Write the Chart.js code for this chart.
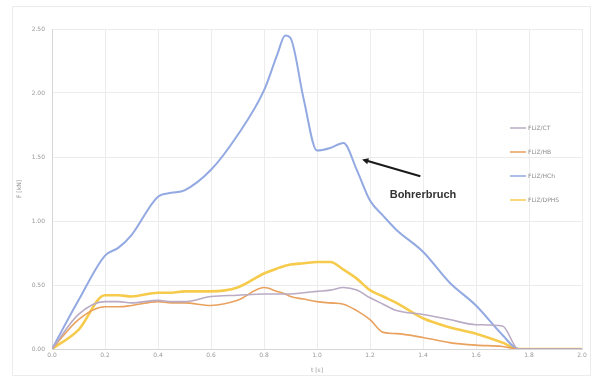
<!DOCTYPE html>
<html>
<head>
<meta charset="utf-8">
<script src="https://cdn.jsdelivr.net/npm/chart.js@4/dist/chart.umd.min.js"></script>
<style>
  html, body { margin: 0; padding: 0; background: #ffffff; }
  #wrap { position: relative; width: 595px; height: 379px; }
  #frame { position: absolute; left: 12px; top: 6px; width: 579px; height: 370px; border: 1px solid #ececec; box-sizing: border-box; pointer-events: none; }
</style>
</head>
<body>
<div id="wrap">
  <canvas id="c" width="595" height="379"></canvas>
  <div id="frame"></div>
</div>
<script>
// Time samples [s]
const timeS = [0.0, 0.1, 0.2, 0.25, 0.3, 0.4, 0.45, 0.5, 0.6, 0.7, 0.8, 0.85, 0.88, 0.9, 0.95, 1.0, 1.05, 1.1, 1.15, 1.2, 1.25, 1.3, 1.4, 1.5, 1.6, 1.7, 1.76, 1.85, 2.0];

// Force series [kN]
const fCT   = [0.00, 0.27, 0.37, 0.37, 0.36, 0.38, 0.37, 0.37, 0.41, 0.42, 0.43, 0.43, 0.43, 0.43, 0.44, 0.45, 0.46, 0.48, 0.46, 0.40, 0.35, 0.30, 0.27, 0.23, 0.19, 0.18, 0.00, 0.00, 0.00];
const fHB   = [0.00, 0.23, 0.33, 0.33, 0.34, 0.37, 0.36, 0.36, 0.34, 0.38, 0.48, 0.45, 0.43, 0.41, 0.39, 0.37, 0.36, 0.35, 0.30, 0.23, 0.13, 0.12, 0.09, 0.05, 0.03, 0.02, 0.00, 0.00, 0.00];
const fHCh  = [0.00, 0.38, 0.73, 0.79, 0.89, 1.19, 1.22, 1.24, 1.40, 1.67, 2.02, 2.30, 2.45, 2.43, 1.95, 1.55, 1.57, 1.61, 1.40, 1.16, 1.04, 0.93, 0.76, 0.52, 0.34, 0.11, 0.00, 0.00, 0.00];
const fDPHS = [0.00, 0.15, 0.42, 0.42, 0.41, 0.44, 0.44, 0.45, 0.45, 0.48, 0.59, 0.63, 0.65, 0.66, 0.67, 0.68, 0.68, 0.62, 0.55, 0.46, 0.41, 0.36, 0.24, 0.17, 0.12, 0.05, 0.00, 0.00, 0.00];

const seriesNames = ["FLiZ/CT", "FLiZ/HB", "FLiZ/HCh", "FLiZ/DPHS"];
const xTicks = [0.0, 0.2, 0.4, 0.6, 0.8, 1.0, 1.2, 1.4, 1.6, 1.8, 2.0];
const yTicks = [0.0, 0.5, 1.0, 1.5, 2.0, 2.5];

// Annotation: arrow tip, arrow tail and label anchor in data units
const noteText = "Bohrerbruch";
const noteTip = [1.17, 1.48];
const noteTail = [1.39, 1.35];
const noteLabel = [1.40, 1.20];

const toPoints = arr => arr.map((v, i) => ({ x: timeS[i], y: v }));

const colors = ["#b9abc4", "#e9a15e", "#93a9e2", "#f6cb4c"];
const widths = [1.6, 1.6, 2, 2.6];
const allSeries = [fCT, fHB, fHCh, fDPHS];

const datasets = allSeries.map((s, i) => ({
  label: seriesNames[i],
  data: toPoints(s),
  borderColor: colors[i],
  backgroundColor: colors[i],
  borderWidth: widths[i],
  pointRadius: 0,
  cubicInterpolationMode: "monotone",
  fill: false
}));

const legendAndNote = {
  id: "legendAndNote",
  afterDatasetsDraw(chart) {
    const ctx = chart.ctx;
    const xs = chart.scales.x, ys = chart.scales.y;
    ctx.save();
    // legend inside the plot, right side
    ctx.font = "6px 'DejaVu Sans', sans-serif";
    ctx.textBaseline = "middle";
    seriesNames.forEach((name, i) => {
      const y = 128 + i * 24;
      ctx.strokeStyle = colors[i];
      ctx.lineWidth = 1.5;
      ctx.beginPath();
      ctx.moveTo(510, y);
      ctx.lineTo(526, y);
      ctx.stroke();
      ctx.fillStyle = "#8a8a8a";
      ctx.fillText(name, 528, y);
    });
    // arrow
    const tx = xs.getPixelForValue(noteTip[0]), ty = ys.getPixelForValue(noteTip[1]);
    const sx = xs.getPixelForValue(noteTail[0]), sy = ys.getPixelForValue(noteTail[1]);
    ctx.strokeStyle = "#1a1a1a";
    ctx.fillStyle = "#1a1a1a";
    ctx.lineWidth = 2;
    ctx.beginPath();
    ctx.moveTo(sx, sy);
    ctx.lineTo(tx + 4, ty + 1);
    ctx.stroke();
    const ang = Math.atan2(ty - sy, tx - sx);
    ctx.beginPath();
    ctx.moveTo(tx, ty);
    ctx.lineTo(tx - 7 * Math.cos(ang - 0.45), ty - 7 * Math.sin(ang - 0.45));
    ctx.lineTo(tx - 7 * Math.cos(ang + 0.45), ty - 7 * Math.sin(ang + 0.45));
    ctx.closePath();
    ctx.fill();
    // label
    ctx.font = "bold 11px 'Liberation Sans', Arial, sans-serif";
    ctx.fillStyle = "#333333";
    ctx.textAlign = "center";
    ctx.fillText(noteText, xs.getPixelForValue(noteLabel[0]), ys.getPixelForValue(noteLabel[1]));
    ctx.restore();
  }
};

new Chart(document.getElementById("c"), {
  type: "line",
  data: { datasets },
  options: {
    responsive: false,
    animation: false,
    layout: { padding: { left: 16, right: 13, top: 29, bottom: 5 } },
    plugins: { legend: { display: false }, tooltip: { enabled: false } },
    scales: {
      x: {
        type: "linear",
        min: 0, max: 2,
        afterBuildTicks: s => { s.ticks = xTicks.map(v => ({ value: v })); },
        afterFit: s => { s.height = 25; },
        ticks: {
          color: "#999999",
          font: { size: 6, family: "'DejaVu Sans', sans-serif" },
          padding: 3,
          maxRotation: 0,
          callback: v => v.toFixed(1)
        },
        grid: { color: "#ececec", lineWidth: 1, drawTicks: false },
        border: { color: "#d6d6d6" },
        title: { display: true, text: "t [s]", color: "#999999", font: { size: 6, family: "'DejaVu Sans', sans-serif" }, padding: { top: 4, bottom: 0 } }
      },
      y: {
        min: 0, max: 2.5,
        afterBuildTicks: s => { s.ticks = yTicks.map(v => ({ value: v })); },
        afterFit: s => { s.width = 36; },
        ticks: {
          color: "#999999",
          font: { size: 6, family: "'DejaVu Sans', sans-serif" },
          padding: 7,
          callback: v => v.toFixed(2)
        },
        grid: { color: "#ececec", lineWidth: 1, drawTicks: false },
        border: { color: "#d6d6d6" },
        title: { display: true, text: "F [kN]", color: "#999999", font: { size: 6, family: "'DejaVu Sans', sans-serif" }, padding: { top: 0, bottom: 4 } }
      }
    }
  },
  plugins: [legendAndNote]
});
</script>
</body>
</html>
